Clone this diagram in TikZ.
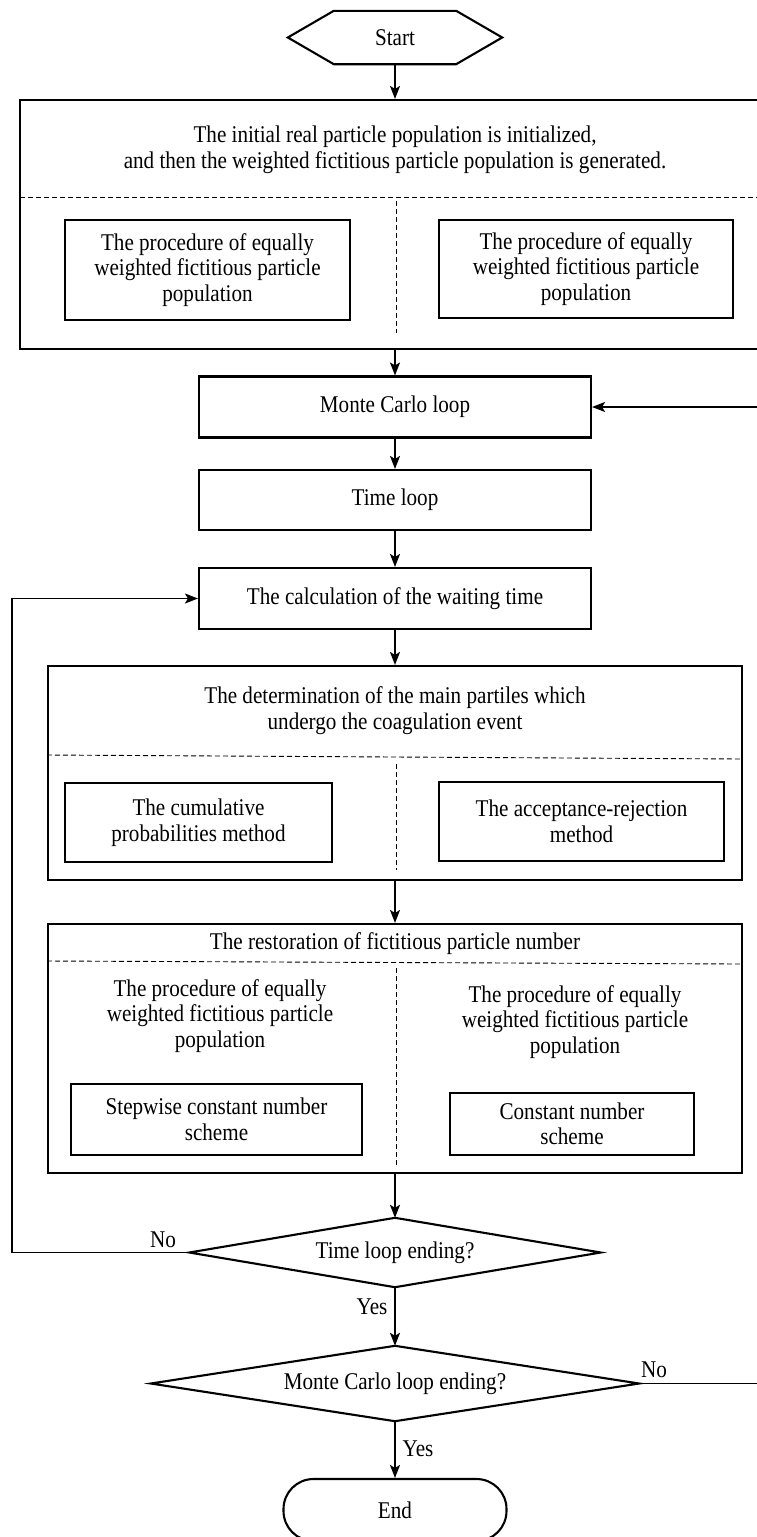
\documentclass[tikz,border=0pt]{standalone}
\usepackage{fontspec}
\setmainfont[FakeStretch=0.88]{Liberation Serif}
\usetikzlibrary{arrows.meta}
\begin{document}
\begin{tikzpicture}[x=1pt,y=-1pt,
  font=\fontsize{24}{25.5}\selectfont,
  box/.style={draw, line width=2.1pt, inner sep=0pt, align=center},
  inbox/.style={draw, line width=1.9pt, inner sep=0pt, align=center},
  plain/.style={inner sep=0pt, align=center},
  frame/.style={line width=2.1pt, line join=miter},
  arr/.style={line width=1.8pt, -{Stealth[length=13pt,width=10pt,inset=3pt]}},
  dsh/.style={line width=0.9pt, dash pattern=on 5pt off 3pt},
  lab/.style={inner sep=0pt}]
\useasboundingbox (0,0) rectangle (757,1537);
\clip (0,0) rectangle (757,1537);

% Start
\node[plain, minimum width=214pt, minimum height=53pt] (start) at (395,37.5) {Start};
\draw[frame] (start.west) -- ([xshift=46pt]start.north west) -- ([xshift=-46pt]start.north east)
  -- (start.east) -- ([xshift=-46pt]start.south east) -- ([xshift=46pt]start.south west) -- cycle;

% Box 1
\node[box, minimum width=750pt, minimum height=249pt] (box1) at (395,224.5) {};
\node[plain] (t1) at (395,150) {The initial real particle population is initialized,\\and then the weighted fictitious particle population is generated.};
\draw[dsh] (20,197) -- (770,197);
\draw[dsh] (396,201) -- (396,333);
\node[inbox, minimum width=285pt, minimum height=100pt] (p1) at (207.5,270) {The procedure of equally\\weighted fictitious particle\\population};
\node[inbox, minimum width=294pt, minimum height=98pt] (p2) at (586,269) {The procedure of equally\\weighted fictitious particle\\population};

% Loop boxes
\node[box, minimum width=392pt, minimum height=61pt] (mc) at (395,407) {Monte Carlo loop};
\node[box, minimum width=392pt, minimum height=60pt] (tl) at (395,500) {Time loop};
\node[box, minimum width=392pt, minimum height=61pt] (wt) at (395,598.5) {The calculation of the waiting time};

% Box 2
\node[box, minimum width=694pt, minimum height=214pt] (box2) at (395,773) {};
\node[plain] (t2) at (395,710.5) {The determination of the main partiles which\\undergo the coagulation event};
\draw[dsh] (47,755) -- (742,759);
\draw[dsh] (396,764) -- (396,870);
\node[inbox, minimum width=267pt, minimum height=79pt] (c1) at (198.5,822.5) {The cumulative\\probabilities method};
\node[inbox, minimum width=285pt, minimum height=79pt] (c2) at (581.5,821.5) {The acceptance-rejection\\method};

% Box 3
\node[box, minimum width=694pt, minimum height=249pt] (box3) at (395,1048.5) {};
\node[plain] (t3) at (395,944) {The restoration of fictitious particle number};
\draw[dsh] (47,961) -- (742,964);
\draw[dsh] (396,968) -- (396,1166);
\node[plain] (r1) at (220,1016) {The procedure of equally\\weighted fictitious particle\\population};
\node[plain] (r2) at (575,1022) {The procedure of equally\\weighted fictitious particle\\population};
\node[inbox, minimum width=291pt, minimum height=71pt] (s1) at (216.5,1119.5) {Stepwise constant number\\scheme};
\node[inbox, minimum width=244pt, minimum height=62pt] (s2) at (572,1124) {Constant number\\scheme};

% Decisions
\node[plain, minimum width=411pt, minimum height=69pt] (d1) at (395,1252.5) {Time loop ending?};
\draw[frame] (d1.west) -- (d1.north) -- (d1.east) -- (d1.south) -- cycle;
\node[plain, minimum width=488pt, minimum height=75pt] (d2) at (395,1383.5) {Monte Carlo loop ending?};
\draw[frame] (d2.west) -- (d2.north) -- (d2.east) -- (d2.south) -- cycle;

% End
\node[draw, line width=2.1pt, rounded corners=30pt, minimum width=223pt, minimum height=62pt, inner sep=0pt] (end) at (395,1510) {End};

% Connectors
\draw[arr] (start.south) -- (box1.north);
\draw[arr] (box1.south) -- (mc.north);
\draw[arr] (mc.south) -- (tl.north);
\draw[arr] (tl.south) -- (wt.north);
\draw[arr] (wt.south) -- (box2.north);
\draw[arr] (box2.south) -- (box3.north);
\draw[arr] (box3.south) -- (d1.north);
\draw[arr] (d1.south) -- (d2.north);
\draw[arr] (d2.south) -- (end.north);

\coordinate (lc) at (12,1252.5);
\draw[arr] (d1.west) -- (lc) |- (wt.west);
\coordinate (rc) at (765,1383.5);
\draw[arr] (d2.east) -- (rc) |- (mc.east);

% Labels
\node[lab] (no1) at (163,1240) {No};
\node[lab] (yes1) at (372,1307) {Yes};
\node[lab] (no2) at (654,1370) {No};
\node[lab] (yes2) at (418,1449) {Yes};
\end{tikzpicture}
\end{document}
